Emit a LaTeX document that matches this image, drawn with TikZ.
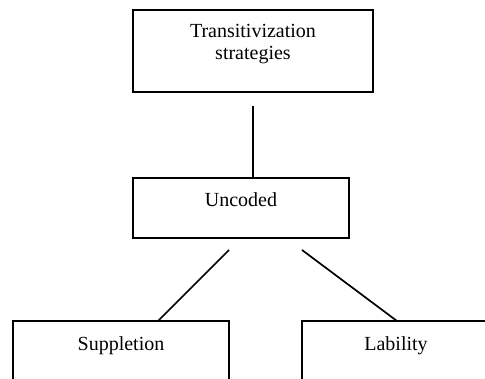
\documentclass[tikz,border=0pt]{standalone}
\usepackage{fontspec}
\setmainfont{Liberation Serif}
\begin{document}
\begin{tikzpicture}[x=1pt,y=-1pt,
  box/.style={draw,line width=1.7pt,rectangle,inner sep=0pt,outer sep=0pt,anchor=north west},
  lbl/.style={inner sep=0pt,anchor=north,align=center,font=\fontsize{20}{22}\selectfont},
  link/.style={line width=1.7pt}]
  \useasboundingbox (0,0) rectangle (485,379);
  \clip (0,0) rectangle (485,379);

  % boxes
  \node[box,minimum width=240pt,minimum height=82pt] (top) at (133,10) {};
  \node[box,minimum width=216pt,minimum height=60pt] (mid) at (133,178) {};
  \node[box,minimum width=216pt,minimum height=80pt] (left) at (13,321) {};
  \node[box,minimum width=216pt,minimum height=80pt] (right) at (302,321) {};

  % texts
  \node[lbl] (ttop) at (253,24.3) {Transitivization\\strategies};
  \node[lbl] (tmid) at (241,192.5) {Uncoded};
  \node[lbl] (tleft) at (121,336.5) {Suppletion};
  \node[lbl] (tright) at (396,336.5) {Lability};

  % connector end points
  \path (top.south) ++(0,14) coordinate (a1);
  \path (mid.north -| a1) coordinate (a2);
  \path (mid.south west) ++(96,12) coordinate (b1);
  \path (left.north west) ++(145,0) coordinate (b2);
  \path (mid.south west) ++(169,12) coordinate (c1);
  \path (right.north west) ++(95,0) coordinate (c2);

  % connectors
  \draw[link] (a1) -- (a2);
  \draw[link] (b1) -- (b2);
  \draw[link] (c1) -- (c2);
\end{tikzpicture}
\end{document}
